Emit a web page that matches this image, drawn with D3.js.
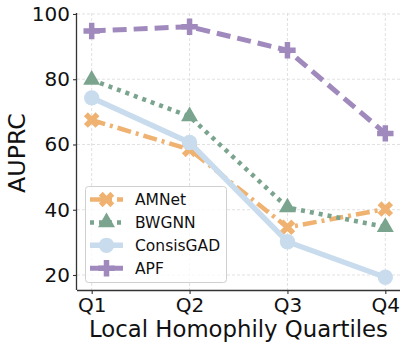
<!DOCTYPE html>
<html>
<head>
  <title>AUPRC by Local Homophily Quartile</title>
  <meta charset="utf-8">
  <script type="text/javascript" src="https://d3js.org/d3.v7.min.js"></script>
  <style>
    body { margin: 0; background: #fff; }
    text { font-family: "DejaVu Sans", sans-serif; fill: #111; }
  </style>
</head>
<body>
  <svg class="chart" width="407" height="348"></svg>

  <script type="text/javascript">
    "use strict";

    var quartiles = ["Q1", "Q2", "Q3", "Q4"];
    var yTicks = [20, 40, 60, 80, 100];

    var amnet     = [67.5, 58.5, 34.6, 40.2];
    var bwgnn     = [79.8, 68.6, 40.7, 34.7];
    var consisgad = [74.3, 60.6, 30.2, 19.3];
    var apf       = [94.8, 96.1, 88.9, 63.4];

    var seriesNames = ["AMNet", "BWGNN", "ConsisGAD", "APF"];

    var svg = d3.select("svg.chart");
    var margin = { top: 13, left: 77, bottom: 58, right: 7 };
    var width = +svg.attr("width") - margin.left - margin.right;
    var height = +svg.attr("height") - margin.top - margin.bottom;

    var x = d3.scaleLinear()
              .domain([-0.15, 3.15])
              .range([margin.left, margin.left + width]);

    var y = d3.scaleLinear()
              .domain([15.4, 100.3])
              .range([margin.top + height, margin.top]);

    // one style entry per series
    var styles = {
      AMNet:     { color: "#efb271", dash: "14,5,3,5", width: 4.5, symbol: "x" },
      BWGNN:     { color: "#7ba48e", dash: "4,5",      width: 4.5, symbol: "triangle" },
      ConsisGAD: { color: "#c9dcee", dash: null,       width: 5.5, symbol: "circle" },
      APF:       { color: "#a08abd", dash: "14,7",     width: 5,   symbol: "plus" }
    };

    var series = [
      { name: "AMNet", values: amnet },
      { name: "BWGNN", values: bwgnn },
      { name: "ConsisGAD", values: consisgad },
      { name: "APF", values: apf }
    ];

    function symbolPath(kind) {
      if (kind === "triangle") return d3.symbol(d3.symbolTriangle, 125)();
      if (kind === "circle") return d3.symbol(d3.symbolCircle, 185)();
      return d3.symbol(d3.symbolCross, 150)();
    }
    function symbolRotate(kind) {
      return kind === "x" ? " rotate(45)" : "";
    }

    // grid
    var grid = svg.append("g").attr("class", "grid")
      .attr("stroke", "#d9d9d9").attr("stroke-width", 0.8)
      .attr("stroke-dasharray", "3,2");
    grid.selectAll("line.h").data(yTicks).enter().append("line")
      .attr("x1", margin.left).attr("x2", margin.left + width)
      .attr("y1", function(d) { return y(d); })
      .attr("y2", function(d) { return y(d); });
    grid.selectAll("line.v").data(quartiles).enter().append("line")
      .attr("y1", margin.top).attr("y2", margin.top + height)
      .attr("x1", function(d, i) { return x(i); })
      .attr("x2", function(d, i) { return x(i); });

    // axes
    var xAxis = svg.append("g")
      .attr("transform", "translate(0," + (margin.top + height) + ")")
      .call(d3.axisBottom(x).tickValues([0, 1, 2, 3])
              .tickFormat(function(d) { return quartiles[d]; })
              .tickSize(4).tickPadding(4));
    var yAxis = svg.append("g")
      .attr("transform", "translate(" + margin.left + ",0)")
      .call(d3.axisLeft(y).tickValues(yTicks).tickSize(4).tickPadding(3));

    [xAxis, yAxis].forEach(function(a) {
      a.select(".domain").attr("stroke", "#333").attr("stroke-width", 1.3);
      a.selectAll(".tick line").attr("stroke", "#333").attr("stroke-width", 1.1);
      a.selectAll(".tick text").style("font-size", "20px")
        .style("font-family", "DejaVu Sans").attr("fill", "#111");
    });
    // axisLeft domain includes outer ticks; redraw spines plain
    xAxis.select(".domain").attr("d", "M" + margin.left + ",0.5H" + (margin.left + width));
    yAxis.select(".domain").attr("d", "M-0.5," + margin.top + "V" + (margin.top + height));

    // lines and markers
    var line = d3.line()
      .x(function(d, i) { return x(i); })
      .y(function(d) { return y(d); });

    var layers = svg.selectAll("g.series")
      .data(series)
      .enter().append("g")
      .attr("class", "series");

    layers.append("path")
      .attr("d", function(d) { return line(d.values); })
      .attr("fill", "none")
      .attr("stroke", function(d) { return styles[d.name].color; })
      .attr("stroke-width", function(d) { return styles[d.name].width; })
      .attr("stroke-dasharray", function(d) { return styles[d.name].dash; });

    layers.selectAll("path.marker")
      .data(function(d) {
        return d.values.map(function(v, i) { return { name: d.name, v: v, i: i }; });
      })
      .enter().append("path")
      .attr("class", "marker")
      .attr("d", function(d) { return symbolPath(styles[d.name].symbol); })
      .attr("transform", function(d) {
        return "translate(" + x(d.i) + "," + y(d.v) + ")" + symbolRotate(styles[d.name].symbol);
      })
      .attr("fill", function(d) { return styles[d.name].color; });

    // size a title so that it spans the same width as in the reference
    function fitText(sel, target) {
      sel.style("font-size", "20px");
      var w = sel.node().getComputedTextLength();
      if (w > 0) sel.style("font-size", (20 * target / w).toFixed(2) + "px");
    }

    // axis titles
    var xTitle = svg.append("text")
      .attr("x", margin.left + width / 2)
      .attr("y", 337)
      .attr("text-anchor", "middle")
      .text("Local Homophily Quartiles");
    fitText(xTitle, 299);

    var yTitle = svg.append("text")
      .attr("transform", "translate(25,153) rotate(-90)")
      .attr("text-anchor", "middle")
      .text("AUPRC");
    fitText(yTitle, 80);

    // legend
    var legend = svg.append("g").attr("class", "legend");
    legend.append("rect")
      .attr("x", 85.5).attr("y", 186.5)
      .attr("width", 141).attr("height", 96)
      .attr("rx", 3)
      .attr("fill", "#fff").attr("fill-opacity", 0.8)
      .attr("stroke", "#d0d0d0").attr("stroke-width", 1);

    var items = legend.selectAll("g.item")
      .data(seriesNames)
      .enter().append("g")
      .attr("class", "item")
      .attr("transform", function(d, i) { return "translate(0," + (199.5 + i * 22.9) + ")"; });

    items.append("line")
      .attr("x1", 90).attr("x2", 123)
      .attr("stroke", function(d) { return styles[d].color; })
      .attr("stroke-width", function(d) { return styles[d].width; })
      .attr("stroke-dasharray", function(d) { return styles[d].dash; });
    items.append("path")
      .attr("d", function(d) { return symbolPath(styles[d].symbol); })
      .attr("transform", function(d) { return "translate(106.5,0)" + symbolRotate(styles[d].symbol); })
      .attr("fill", function(d) { return styles[d].color; });
    items.append("text")
      .attr("x", 135)
      .attr("dy", "0.36em")
      .style("font-size", "15.5px")
      .text(function(d) { return d; });
  </script>
</body>
</html>
